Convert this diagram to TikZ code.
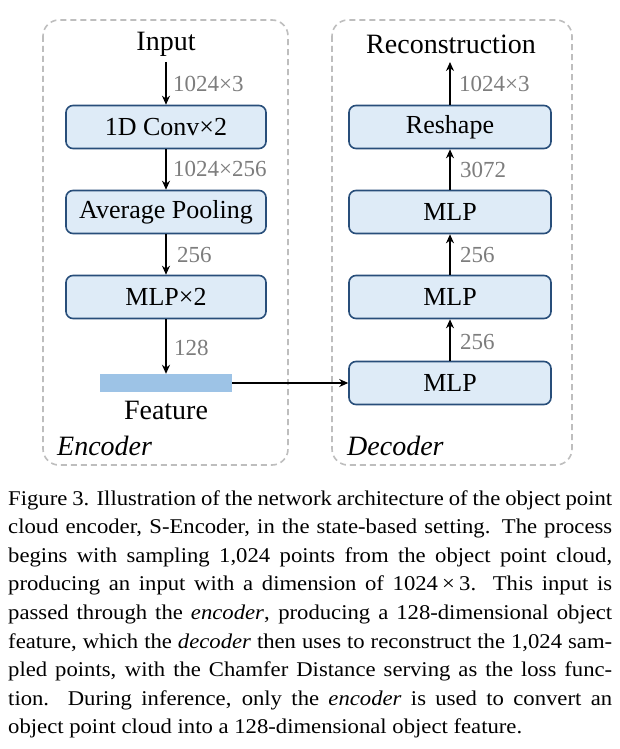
\documentclass[tikz,border=0pt]{standalone}
\usepackage{fontspec}
\setmainfont{Liberation Serif}
\newfontfamily\capfont[FakeStretch=1.08]{Liberation Serif}
\usetikzlibrary{arrows.meta}
\definecolor{boxfill}{RGB}{222,235,247}
\definecolor{boxline}{RGB}{40,78,122}
\definecolor{featfill}{RGB}{157,195,230}
\definecolor{dashgrey}{RGB}{190,190,190}
\definecolor{dimgrey}{RGB}{125,125,125}
\tikzset{
  x=1pt, y=-1pt,
  blockbox/.style={draw=boxline, line width=1.6pt, fill=boxfill, rounded corners=7pt,
    minimum width=200pt, minimum height=43pt, inner sep=0pt,
    font=\fontsize{26}{28}\selectfont},
  groupbox/.style={draw=dashgrey, line width=1.6pt, dash pattern=on 6pt off 4pt, rounded corners=16pt},
  titletext/.style={inner sep=0pt, font=\fontsize{28}{30}\selectfont},
  dimlabel/.style={inner sep=0pt, text=dimgrey, anchor=west, font=\fontsize{23}{25}\selectfont},
  flow/.style={draw=black, line width=1.6pt, -{Stealth[length=9pt,width=8pt]}},
  capline/.style={inner sep=0pt, anchor=base west, font=\capfont\fontsize{21}{28}\selectfont},
}
\newcommand{\justline}[1]{\makebox[604pt][s]{#1}}
\newcommand{\dimtimes}{\mbox{1024\hspace{0.2em}×\hspace{0.2em}3}}
\begin{document}
\begin{tikzpicture}
\useasboundingbox (0,0) rectangle (619,749);
\fill[white] (0,0) rectangle (619,749);
% group boxes
\draw[groupbox] (43,20) rectangle (288,465);
\draw[groupbox] (332,20) rectangle (572,465);
% encoder
\node[titletext] (input) at (166,44) {Input};
\node[blockbox] (conv) at (166,127) {1D Conv×2};
\node[blockbox] (pool) at (166,212) {Average Pooling};
\node[blockbox] (mlpe) at (166,297) {MLP×2};
\node[fill=featfill, minimum width=132pt, minimum height=18pt, inner sep=0pt] (feat) at (166,383) {};
\node[titletext] (feattext) at (166,410) {Feature};
\node[titletext, anchor=west] (enc) at (57,446) {\itshape Encoder};
\draw[flow] (166,62) -- (conv.north);
\draw[flow] (conv.south) -- (pool.north);
\draw[flow] (pool.south) -- (mlpe.north);
\draw[flow] (mlpe.south) -- (feat.north);
\node[dimlabel] (l1) at (173,84) {1024×3};
\node[dimlabel] (l2) at (173,169) {1024×256};
\node[dimlabel] (l3) at (177,255) {256};
\node[dimlabel] (l4) at (174,348) {128};
% decoder
\node[titletext] (recon) at (451,44) {Reconstruction};
\node[blockbox, minimum width=202pt] (resh) at (450,127) {Reshape};
\node[blockbox, minimum width=202pt] (mlp3) at (450,212) {MLP};
\node[blockbox, minimum width=202pt] (mlp2) at (450,297) {MLP};
\node[blockbox, minimum width=202pt] (mlp1) at (450,383) {MLP};
\node[titletext, anchor=west] (dec) at (347,446) {\itshape Decoder};
\draw[flow] (mlp1.north) -- (mlp2.south);
\draw[flow] (mlp2.north) -- (mlp3.south);
\draw[flow] (mlp3.north) -- (resh.south);
\coordinate (outtop) at (450,62);
\draw[flow] (resh.north) -- (outtop);
\node[dimlabel] (r1) at (459,84) {1024×3};
\node[dimlabel] (r2) at (460,170) {3072};
\node[dimlabel] (r3) at (460,255) {256};
\node[dimlabel] (r4) at (460,342) {256};
\draw[flow] (feat.east) -- (mlp1.west);
% caption
\node[capline] (c1) at (8,505) {\justline{Figure 3. Illustration of the network architecture of the object point}};
\node[capline] (c2) at (8,533.6) {\justline{cloud encoder, S-Encoder, in the state-based setting. The process}};
\node[capline] (c3) at (8,562.2) {\justline{begins with sampling 1,024 points from the object point cloud,}};
\node[capline] (c4) at (8,590.8) {\justline{producing an input with a dimension of \dimtimes. This input is}};
\node[capline] (c5) at (8,619.4) {\justline{passed through the \textit{encoder}, producing a 128-dimensional object}};
\node[capline] (c6) at (8,648) {\justline{feature, which the \textit{decoder} then uses to reconstruct the 1,024 sam-}};
\node[capline] (c7) at (8,676.6) {\justline{pled points, with the Chamfer Distance serving as the loss func-}};
\node[capline] (c8) at (8,705.2) {\justline{tion. During inference, only the \textit{encoder} is used to convert an}};
\node[capline] (c9) at (8,733.8) {object point cloud into a 128-dimensional object feature.};
\end{tikzpicture}
\end{document}
